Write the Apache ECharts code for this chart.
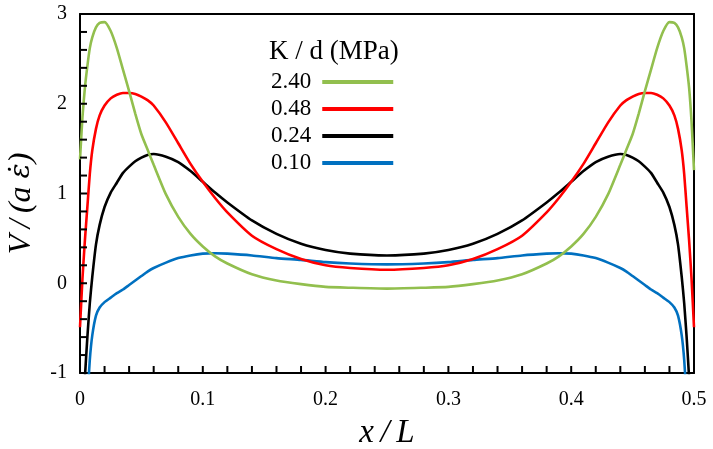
<!DOCTYPE html>
<html>
<head>
<meta charset="utf-8">
<script src="https://cdn.jsdelivr.net/npm/echarts@6/dist/echarts.min.js"></script>
<style>html,body{margin:0;padding:0;background:#fff;}#c{width:713px;height:449px;}</style>
</head>
<body>
<div id="c"></div>
<script>
const xs = [0,0.002,0.004,0.006,0.008,0.01,0.013,0.016,0.02,0.025,0.03,0.035,0.04,0.045,0.05,0.055,0.06,0.07,0.08,0.09,0.1,0.11,0.12,0.14,0.16,0.18,0.2,0.22,0.25,
  0.28,0.3,0.32,0.34,0.36,0.38,0.39,0.4,0.41,0.42,0.43,0.44,0.445,0.45,0.455,0.46,0.465,0.47,0.475,0.48,0.484,0.487,0.49,0.492,0.494,0.496,0.498,0.5];
const k240 = [1.38,1.85,2.18,2.42,2.62,2.74,2.85,2.90,2.91,2.81,2.62,2.38,2.14,1.89,1.66,1.49,1.32,0.99,0.74,0.55,0.41,0.30,0.22,0.10,0.03,-0.01,-0.04,-0.05,-0.06,
  -0.05,-0.04,-0.01,0.03,0.10,0.22,0.30,0.41,0.55,0.74,0.99,1.32,1.49,1.66,1.89,2.14,2.38,2.62,2.81,2.91,2.90,2.85,2.74,2.62,2.42,2.18,1.80,1.26];
const k048 = [-0.49,0.05,0.48,0.85,1.22,1.48,1.72,1.87,1.98,2.06,2.10,2.12,2.12,2.11,2.08,2.04,1.98,1.79,1.56,1.33,1.13,0.95,0.79,0.53,0.38,0.27,0.20,0.17,0.15,
  0.17,0.20,0.27,0.38,0.53,0.79,0.95,1.13,1.33,1.56,1.79,1.98,2.04,2.08,2.11,2.12,2.12,2.10,2.06,1.98,1.87,1.72,1.48,1.22,0.85,0.48,0.05,-0.49];
const k024 = [-2.5,-1.6,-1.05,-0.60,-0.22,0.07,0.43,0.65,0.85,1.01,1.12,1.23,1.30,1.36,1.40,1.43,1.44,1.41,1.35,1.25,1.13,1.01,0.90,0.70,0.55,0.44,0.37,0.33,0.31,
  0.33,0.37,0.44,0.55,0.70,0.90,1.01,1.13,1.25,1.35,1.41,1.44,1.43,1.40,1.36,1.30,1.23,1.12,1.01,0.85,0.65,0.43,0.07,-0.22,-0.60,-1.05,-1.6,-2.5];
const k010 = [-4,-2.8,-1.9,-1.3,-0.85,-0.58,-0.36,-0.27,-0.21,-0.16,-0.11,-0.07,-0.02,0.03,0.08,0.13,0.17,0.23,0.28,0.31,0.33,0.335,0.33,0.31,0.28,0.26,0.235,0.22,0.21,
  0.22,0.235,0.26,0.28,0.31,0.33,0.335,0.33,0.31,0.28,0.23,0.17,0.13,0.08,0.03,-0.02,-0.07,-0.11,-0.16,-0.21,-0.27,-0.36,-0.58,-0.85,-1.3,-1.9,-2.8,-4];
const names = ['2.40','0.48','0.24','0.10'];
const values = [k240, k048, k024, k010];
const colors = ['#92BF4E','#FF0000','#000000','#0070C0'];
const legendTitle = 'K / d (MPa)';
const xName = 'x\u2009/\u2009L';
const yName = 'V\u2009/\u2009(a {e|ε\u0307})';
// tick positions (inward ticks on the bottom and left frame)
const xTicks = [0.02,0.04,0.06,0.08,0.1,0.12,0.14,0.16,0.18,0.2,0.22,0.24,0.26,0.28,0.3,0.32,0.34,0.36,0.38,0.4,0.42,0.44,0.46,0.48];
const yTicks = [-0.8,-0.6,-0.4,-0.2,0,0.2,0.4,0.6,0.8,1,1.2,1.4,1.6,1.8,2,2.2,2.4,2.6,2.8];

const serif = 'Liberation Serif';
const chart = echarts.init(document.getElementById('c'), null, {renderer:'canvas'});
const series = names.map((n,i)=>({
  name:n, type:'line', symbol:'none', smooth:0.2, clip:true,
  data: xs.map((x,j)=>[x, values[i][j]]),
  lineStyle:{color:colors[i], width:2.6}, itemStyle:{color:colors[i]},
  z: 10-i
}));
const TL = 7;
const tickData = xTicks.map(x=>[x, -1, 0]).concat(yTicks.map(y=>[0, y, 1]));
series.push({
  name:'ticks', type:'custom', silent:true, z:20, clip:false,
  data: tickData,
  renderItem: (params, api) => {
    const p = api.coord([api.value(0), api.value(1)]);
    const vertical = api.value(2) === 0;
    return {type:'line',
      shape: vertical ? {x1:p[0], y1:p[1], x2:p[0], y2:p[1]-TL} : {x1:p[0], y1:p[1], x2:p[0]+TL, y2:p[1]},
      style:{stroke:'#000', lineWidth:2}};
  }
});
const frameAxis = {axisLine:{show:true, onZero:false, lineStyle:{color:'#000', width:2}},
  axisTick:{show:false}, axisLabel:{show:false}, splitLine:{show:false}};
chart.setOption({
  animation:false,
  backgroundColor:'#fff',
  tooltip:{show:false},
  title:{text:legendTitle, left:269, top:38, padding:0,
    textStyle:{fontFamily:serif, fontSize:27, fontWeight:'normal', color:'#000'}},
  legend:{data:names, orient:'vertical', left:271, top:69, align:'right', padding:0,
    itemWidth:71, itemHeight:4, itemGap:1, icon:'rect',
    textStyle:{fontFamily:serif, fontSize:23, color:'#000', lineHeight:26, padding:[0,6,0,0]}},
  grid:{left:80, right:19, top:14, bottom:76, containLabel:false, outerBoundsMode:'none', show:false},
  xAxis:[{type:'value', min:0, max:0.5, interval:0.1, position:'bottom',
    name:xName, nameLocation:'middle', nameGap:44,
    nameTextStyle:{fontFamily:serif, fontStyle:'italic', fontSize:33, color:'#000'},
    axisLine:{show:true, onZero:false, lineStyle:{color:'#000', width:2}},
    axisTick:{show:false}, minorTick:{show:false},
    splitLine:{show:false}, minorSplitLine:{show:false},
    axisLabel:{fontFamily:serif, fontSize:20, color:'#000', margin:17,
      formatter:v=>String(Math.round(v*10)/10)}},
    Object.assign({type:'value', min:0, max:0.5, position:'top'}, frameAxis)],
  yAxis:[{type:'value', min:-1, max:3, interval:1, position:'left',
    name:yName, nameLocation:'middle', nameGap:42,
    nameTextStyle:{fontFamily:serif, fontStyle:'italic', fontSize:32, color:'#000', padding:[0,20,0,0],
      rich:{e:{fontFamily:'DejaVu Serif', fontStyle:'italic', fontSize:28, color:'#000'}}},
    axisLine:{show:true, onZero:false, lineStyle:{color:'#000', width:2}},
    axisTick:{show:false}, minorTick:{show:false},
    splitLine:{show:false}, minorSplitLine:{show:false},
    axisLabel:{fontFamily:serif, fontSize:20, color:'#000', margin:13}},
    Object.assign({type:'value', min:-1, max:3, position:'right'}, frameAxis)],
  series: series
});
</script>
</body>
</html>
